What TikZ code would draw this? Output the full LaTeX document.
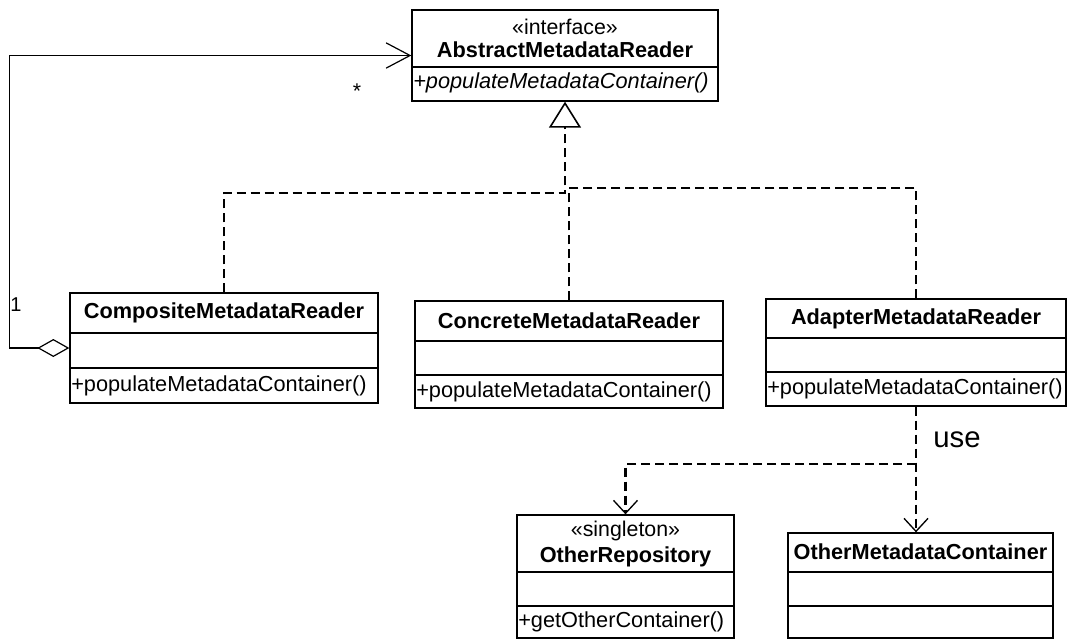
\documentclass[tikz,border=0pt]{standalone}
\usepackage{fontspec}
\setmainfont{Liberation Sans}
\usetikzlibrary{arrows.meta,fit}
\tikzset{
  clsbox/.style={draw, line width=1pt, inner sep=0pt, fill=none},
  divline/.style={line width=1pt},
  clsname/.style={font=\fontsize{16.3}{19}\selectfont\bfseries, inner sep=0pt},
  txt/.style={font=\fontsize{16}{19}\selectfont, inner sep=0pt},
  mth/.style={font=\fontsize{16.3}{19}\selectfont, inner sep=0pt, anchor=west},
  assoc/.style={line width=0.9pt},
  real/.style={line width=1.8pt, dash pattern=on 6.75pt off 3.75pt},
  dep/.style={line width=1.8pt, dash pattern=on 6.75pt off 3.75pt},
}
\begin{document}
\begin{tikzpicture}[x=0.75pt,y=-0.75pt]
\useasboundingbox (0,0) rectangle (1067,640);

% AbstractMetadataReader
\node[clsbox, fit={(412,10)(718,101)}] (abs) {};
\draw[divline] (abs.west |- 0,67) -- (abs.east |- 0,67);
\node[txt] (absst) at (565,27) {«interface»};
\node[clsname] (absnm) at (565,50) {AbstractMetadataReader};
\node[mth, font=\fontsize{16.3}{19}\selectfont\itshape] (absm) at (413,83) {+populateMetadataContainer()};

% CompositeMetadataReader
\node[clsbox, fit={(70,293)(378,403)}] (comp) {};
\draw[divline] (comp.west |- 0,333) -- (comp.east |- 0,333);
\draw[divline] (comp.west |- 0,368) -- (comp.east |- 0,368);
\node[clsname] (compnm) at (224,313) {CompositeMetadataReader};
\node[mth] (compm) at (71,386) {+populateMetadataContainer()};

% ConcreteMetadataReader
\node[clsbox, fit={(415,301)(723,408)}] (conc) {};
\draw[divline] (conc.west |- 0,341) -- (conc.east |- 0,341);
\draw[divline] (conc.west |- 0,375) -- (conc.east |- 0,375);
\node[clsname] (concnm) at (569,321) {ConcreteMetadataReader};
\node[mth] (concm) at (416,392) {+populateMetadataContainer()};

% AdapterMetadataReader
\node[clsbox, fit={(766,299)(1066,406)}] (adap) {};
\draw[divline] (adap.west |- 0,338) -- (adap.east |- 0,338);
\draw[divline] (adap.west |- 0,372) -- (adap.east |- 0,372);
\node[clsname] (adapnm) at (916,319) {AdapterMetadataReader};
\node[mth] (adapm) at (767,389) {+populateMetadataContainer()};

% OtherRepository
\node[clsbox, fit={(517,515)(734,638)}] (orep) {};
\draw[divline] (orep.west |- 0,572) -- (orep.east |- 0,572);
\draw[divline] (orep.west |- 0,606) -- (orep.east |- 0,606);
\node[txt] (orepst) at (625.5,531) {«singleton»};
\node[clsname] (orepnm) at (625.5,557) {OtherRepository};
\node[mth] (orepm) at (518,622) {+getOtherContainer()};

% OtherMetadataContainer
\node[clsbox, fit={(788,533)(1053,638)}] (omc) {};
\draw[divline] (omc.west |- 0,572) -- (omc.east |- 0,572);
\draw[divline] (omc.west |- 0,606) -- (omc.east |- 0,606);
\node[clsname] (omcnm) at (920.5,552) {OtherMetadataContainer};

% Aggregation / association
\draw[assoc, {Diamond[open,length=24pt,width=13.5pt]}-{Straight Barb[length=18pt,width=19pt]}]
  (comp.west) -- ++(-60,0) |- (abs.west);
\node[txt, font=\fontsize{15}{17}\selectfont] (one) at (16,305) {1};
\node[txt, font=\fontsize{16}{19}\selectfont] (star) at (357,91) {*};

% Realizations
\draw[real, -{Triangle[open,length=19.5pt,width=24pt,line width=1.2pt]}]
  (comp.north) |- (abs.south |- 0,193) -- (abs.south);
\draw[real] (conc.north) -- (conc.north |- 0,193);
\draw[real] (adap.north) |- ([xshift=1.5pt]abs.south |- 0,188);

% Dependencies
\coordinate (br) at (adap.south |- 0,464);
\draw[dep, -{Straight Barb[length=9.75pt,width=18pt,line width=1pt]}]
  (adap.south) -- (adap.south |- omc.north);
\draw[dep, -{Straight Barb[length=9.75pt,width=18pt,line width=1pt]}]
  (br) -| (orep.north);
\node[txt, font=\fontsize{22}{26}\selectfont] (use) at (957,440) {use};
\end{tikzpicture}
\end{document}
